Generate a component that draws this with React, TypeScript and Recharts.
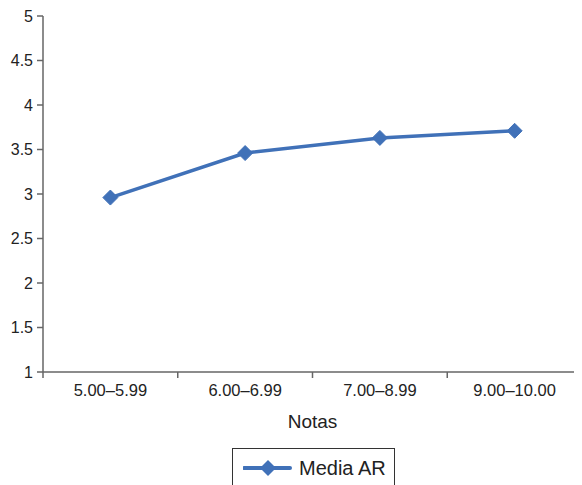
import React from "react";
import { LineChart, Line, XAxis, YAxis, Legend } from "recharts";

const categories = ["5.00\u20135.99", "6.00\u20136.99", "7.00\u20138.99", "9.00\u201310.00"];
const mediaAR = [2.96, 3.46, 3.63, 3.71];
const yTicks = [1, 1.5, 2, 2.5, 3, 3.5, 4, 4.5, 5];
const xTicks = [0, 0.5, 1, 1.5, 2, 2.5, 3, 3.5, 4];

const data = categories.map((c, i) => ({ pos: i + 0.5, name: c, value: mediaAR[i] }));

const LINE = "#4071b8";
const AXIS = "#666";
const FONT = "'Liberation Sans', Arial, sans-serif";

const Diamond = (props: any) => {
  const { cx, cy } = props;
  if (cx == null || cy == null) return null;
  const r = 7.5;
  return (
    <polygon
      points={`${cx},${cy - r} ${cx + r},${cy} ${cx},${cy + r} ${cx - r},${cy}`}
      fill={LINE}
      stroke={LINE}
      strokeWidth={1}
    />
  );
};

const XTick = (props: any) => {
  const { x, y, payload } = props;
  const v = payload.value as number;
  const axisY = y - 8;
  if (Number.isInteger(v)) {
    return <line x1={x} y1={axisY} x2={x} y2={axisY + 6} stroke={AXIS} strokeWidth={1.5} />;
  }
  const label = categories[Math.floor(v)];
  return (
    <text x={x} y={axisY + 12} dy="0.71em" textAnchor="middle" fontSize={16.5} fill="#222" fontFamily={FONT}>
      {label}
    </text>
  );
};

const LegendContent = () => (
  <div
    style={{
      marginLeft: 224,
      width: 163,
      height: 40,
      border: "1px solid #333",
      boxSizing: "border-box",
      display: "flex",
      alignItems: "center",
      fontFamily: FONT,
    }}
  >
    <svg width={52} height={20} style={{ marginLeft: 10 }}>
      <line x1={1} y1={10} x2={47} y2={10} stroke={LINE} strokeWidth={4} strokeLinecap="round" />
      <polygon points="25,2 33,10 25,18 17,10" fill={LINE} />
    </svg>
    <span style={{ fontSize: 20, color: "#222", marginLeft: 4 }}>Media AR</span>
  </div>
);

export default function App() {
  return (
    <LineChart
      width={574}
      height={485}
      data={data}
      margin={{ top: 8, right: 0, bottom: 5, left: 0 }}
    >
      <XAxis
        dataKey="pos"
        type="number"
        domain={[0, 4]}
        ticks={xTicks}
        interval={0}
        height={76}
        tickSize={6}
        tickMargin={2}
        tickLine={false}
        tick={<XTick />}
        axisLine={{ stroke: AXIS, strokeWidth: 1.5 }}
        label={{ value: "Notas", position: "insideBottom", offset: 20, fontSize: 19, fill: "#222", fontFamily: FONT }}
      />
      <YAxis
        type="number"
        domain={[1, 5]}
        ticks={yTicks}
        interval={0}
        width={35}
        tickSize={6}
        tickMargin={4}
        tick={{ fontSize: 16, fill: "#222", fontFamily: FONT }}
        tickLine={{ stroke: AXIS, strokeWidth: 1.5 }}
        axisLine={{ stroke: AXIS, strokeWidth: 1.5 }}
      />
      <Legend verticalAlign="bottom" align="left" content={<LegendContent />} />
      <Line
        dataKey="value"
        name="Media AR"
        stroke={LINE}
        strokeWidth={3.5}
        dot={<Diamond />}
        activeDot={false}
        isAnimationActive={false}
      />
    </LineChart>
  );
}
